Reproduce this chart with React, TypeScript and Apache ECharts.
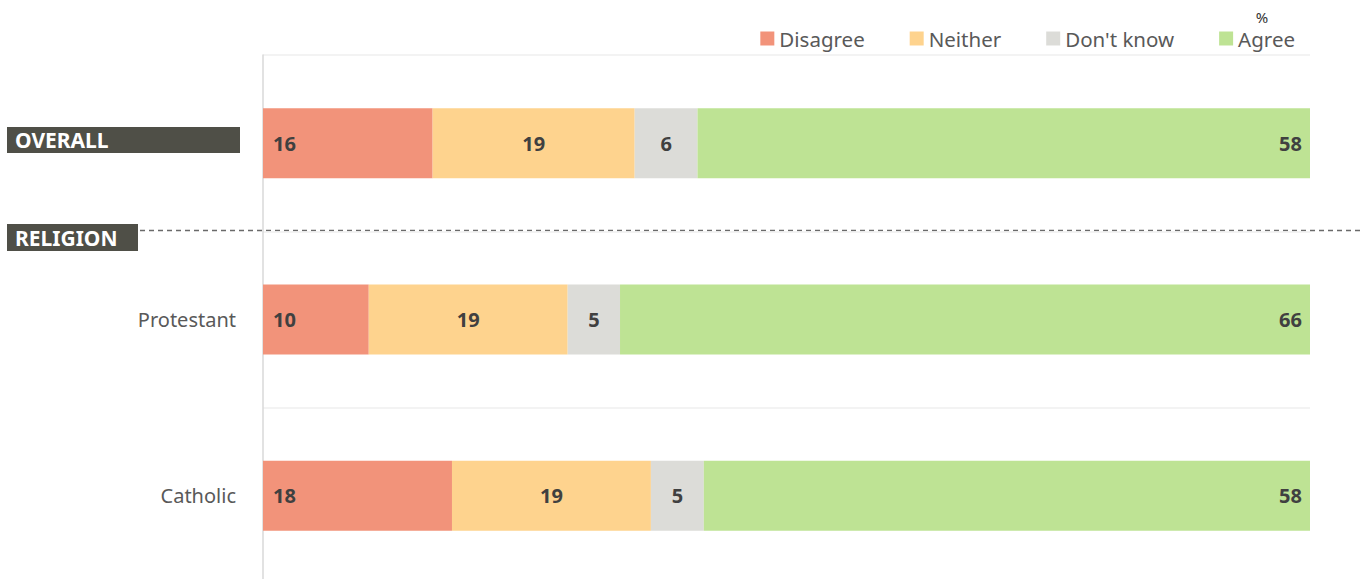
import React, { useEffect, useRef } from "react";
import * as echarts from "echarts";

const categories = ["OVERALL", "Protestant", "Catholic"];
const seriesNames = ["Disagree", "Neither", "Don't know", "Agree"];
const disagree = [16.2, 10.1, 18.05];
const neither = [19.3, 19.0, 19.0];
const dontKnow = [6.0, 5.0, 5.05];
const agree = [58.5, 65.9, 57.9];
const colors = ["#f2937a", "#fed38e", "#dcdcd8", "#bee394"];
const sectionLabels = ["OVERALL", "RELIGION"];

const FONT = "'Noto Sans', 'Open Sans', sans-serif";

export default function App() {
  const ref = useRef<HTMLDivElement>(null);
  useEffect(() => {
    if (!ref.current) return;
    const chart = echarts.init(ref.current, undefined, { renderer: "svg" });
    const values = [disagree, neither, dontKnow, agree];
    const positions = ["insideLeft", "inside", "inside", "insideRight"];
    chart.setOption({
      animation: false,
      textStyle: { fontFamily: FONT },
      legend: {
        top: 28,
        right: 70,
        padding: 0,
        itemWidth: 14,
        itemHeight: 14,
        itemGap: 45,
        icon: "rect",
        textStyle: { fontSize: 20.5, color: "#595959", fontFamily: FONT },
        data: seriesNames,
      },
      grid: { left: 263, right: 55, top: 55, height: 529, containLabel: false },
      xAxis: {
        type: "value",
        min: 0,
        max: 100,
        show: false,
      },
      yAxis: {
        type: "category",
        inverse: true,
        data: categories,
        axisLine: { show: true, lineStyle: { color: "#d9d9d9", width: 1.5 } },
        axisTick: { show: false },
        splitLine: { show: true, lineStyle: { color: "#efefef", width: 1.5 } },
        axisLabel: {
          margin: 27,
          fontSize: 20,
          color: "#595959",
          fontFamily: FONT,
          formatter: (v: string) => (v === "OVERALL" ? "" : v),
        },
      },
      series: seriesNames.map((name, i) => ({
        name,
        type: "bar",
        stack: "total",
        barWidth: 70,
        itemStyle: { color: colors[i] },
        label: {
          show: true,
          position: positions[i],
          distance: i === 0 ? 10 : 8,
          fontSize: 20,
          fontWeight: "bold",
          color: "#404040",
          fontFamily: FONT,
          formatter: (p: any) => String(Math.floor(p.value + 0.49)),
        },
        data: values[i],
      })),
      graphic: [
        {
          type: "line",
          shape: { x1: 140, y1: 230.5, x2: 1360, y2: 230.5 },
          style: { stroke: "#6a6a6a", lineWidth: 1.3, lineDash: [5, 4] },
        },
        {
          type: "rect",
          shape: { x: 7, y: 127, width: 233, height: 26 },
          style: { fill: "#4f4f47" },
        },
        {
          type: "text",
          x: 15,
          y: 140,
          style: {
            text: sectionLabels[0],
            fill: "#ffffff",
            font: `bold 21px ${FONT}`,
            verticalAlign: "middle",
          },
        },
        {
          type: "rect",
          shape: { x: 7, y: 224, width: 131, height: 27 },
          style: { fill: "#4f4f47" },
        },
        {
          type: "text",
          x: 15,
          y: 238,
          style: {
            text: sectionLabels[1],
            fill: "#ffffff",
            font: `bold 21px ${FONT}`,
            verticalAlign: "middle",
          },
        },
        {
          type: "text",
          x: 1262,
          y: 17,
          style: {
            text: "%",
            fill: "#333333",
            font: `15px ${FONT}`,
            align: "center",
            verticalAlign: "middle",
          },
        },
      ],
    });
    return () => chart.dispose();
  }, []);
  return (
    <div
      style={{ position: "absolute", left: 0, top: 0, width: 1365, height: 579, overflow: "hidden", background: "#fff" }}
    >
      <div ref={ref} style={{ width: 1365, height: 600 }} />
    </div>
  );
}
